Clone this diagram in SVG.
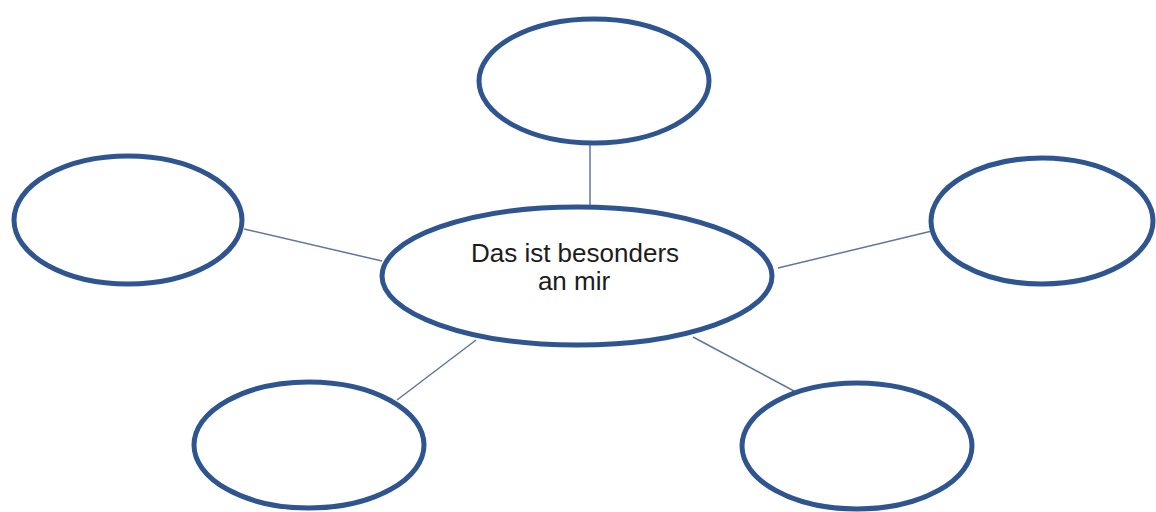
<svg xmlns="http://www.w3.org/2000/svg" width="1156" height="512" viewBox="0 0 1156 512">
<style>
.node{fill:#ffffff;stroke:#2f5590;stroke-width:5}
.link{stroke:#60769f;stroke-width:1.5;fill:none}
.label{font-family:"Liberation Sans",Arial,sans-serif;font-size:26px;fill:#1c1c1c;text-anchor:middle}
</style>
<rect width="1156" height="512" fill="#ffffff"/>
<g id="connectors">
<line class="link" x1="590" y1="143" x2="590" y2="207"/>
<line class="link" x1="244" y1="229" x2="382" y2="261"/>
<line class="link" x1="778" y1="268" x2="932" y2="231"/>
<line class="link" x1="397" y1="400" x2="476" y2="340"/>
<line class="link" x1="693" y1="337" x2="794" y2="391"/>
</g>
<g id="center">
<ellipse class="node" cx="577" cy="276" rx="195" ry="69"/>
<text class="label" x="575" y="262">Das ist besonders</text>
<text class="label" x="574" y="290">an mir</text>
</g>
<g id="top"><ellipse class="node" cx="594" cy="81" rx="115" ry="62"/></g>
<g id="left"><ellipse class="node" cx="128" cy="220" rx="114" ry="64"/></g>
<g id="right"><ellipse class="node" cx="1042" cy="221" rx="111" ry="63"/></g>
<g id="bottom-left"><ellipse class="node" cx="309" cy="445" rx="115" ry="63"/></g>
<g id="bottom-right"><ellipse class="node" cx="857" cy="446" rx="115" ry="63"/></g>
</svg>
